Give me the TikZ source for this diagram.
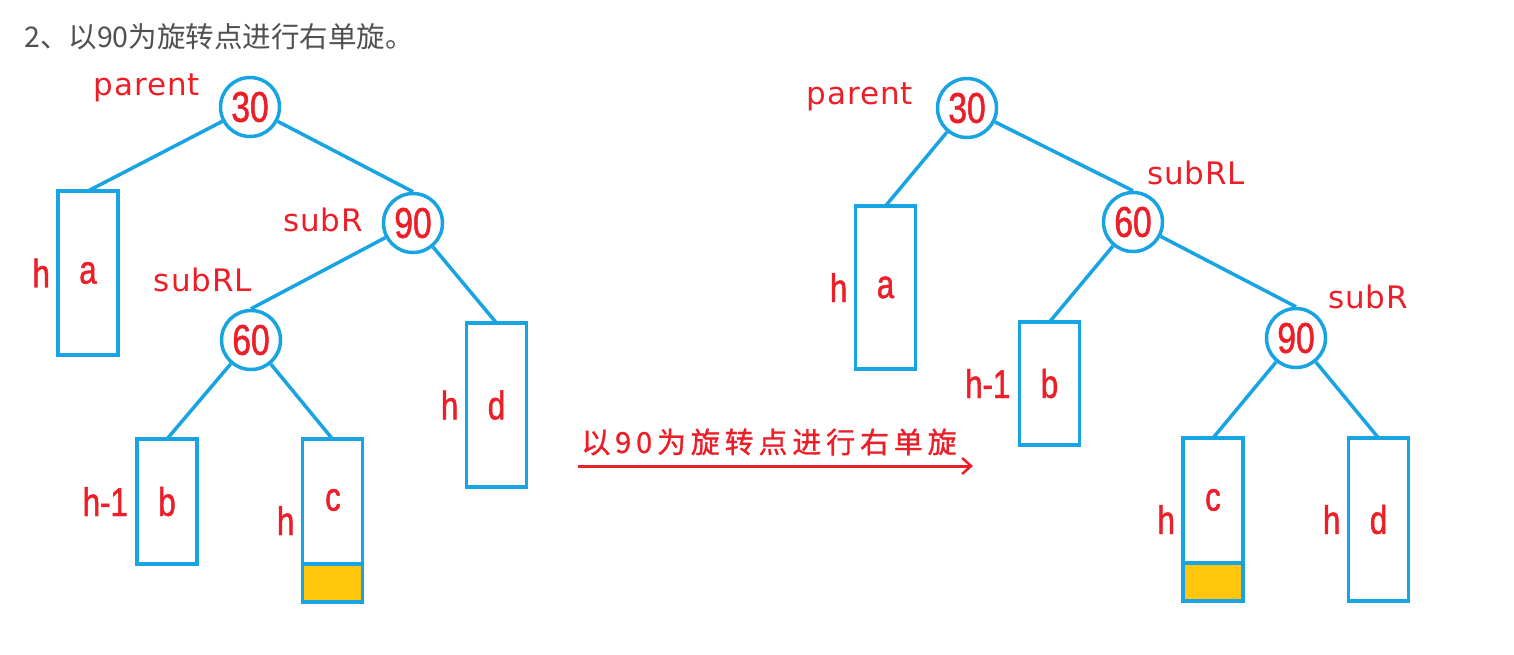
\documentclass[tikz,border=0pt]{standalone}
\usepackage{fontspec}
\setmainfont{Liberation Sans}
\newfontfamily\numfont[FakeStretch=0.78,FakeBold=1.2]{Liberation Sans}
\newfontfamily\lblfont[LetterSpace=3]{DejaVu Sans}
\newfontfamily\cjk{Noto Sans CJK SC}
\newfontfamily\cjkb[FakeBold=1]{Noto Sans CJK SC}
\usetikzlibrary{calc,arrows.meta}
\definecolor{tblue}{RGB}{24,163,226}
\definecolor{tred}{RGB}{236,30,40}
\definecolor{tyellow}{RGB}{255,198,12}
\definecolor{tgray}{RGB}{80,80,80}
\tikzset{
  keynode/.style={circle,draw=tblue,line width=3.5pt,minimum size=59pt,inner sep=0pt,fill=white,
    text=tred,font=\numfont\fontsize{43}{43}\selectfont},
  subtree/.style={rectangle,draw=tblue,line width=3.5pt,minimum width=60pt,inner sep=0pt,outer sep=0pt,fill=white,
    text=tred,font=\numfont\fontsize{40}{40}\selectfont},
  hlab/.style={text=tred,font=\numfont\fontsize{40}{40}\selectfont,anchor=east,inner sep=0pt},
  ptr/.style={text=tred,font=\lblfont\fontsize{31}{31}\selectfont,inner sep=0pt},
  edge/.style={draw=tblue,line width=3.5pt},
}
\begin{document}
\begin{tikzpicture}[x=1pt,y=-1pt]
\useasboundingbox (0,0) rectangle (1514,654);
\fill[white] (0,0) rectangle (1514,654);
% title
\node[anchor=west,text=tgray,font=\cjk\fontsize{28.5}{28.5}\selectfont,inner sep=0pt] (title) at (24,37) {2、以90为旋转点进行右单旋。};

% ---------- left tree ----------
\node[keynode] (L30) at (250,107) {30};
\node[keynode] (L90) at (413,223) {90};
\node[keynode] (L60) at (251,340) {60};
\node[subtree,minimum height=164pt] (La) at (88,273) {a};
\node[subtree,minimum height=125pt] (Lb) at (167,501.5) {b};
\node[subtree,minimum height=163pt] (Lc) at (332.5,520.5) {};
\node[subtree,minimum height=164pt] (Ld) at (496.5,405) {d};
\node[text=tred,font=\numfont\fontsize{40}{40}\selectfont] (Lct) at (333,500) {c};
\draw[draw=tblue,fill=tyellow,line width=3.5pt] (Lc.south west) rectangle ($(Lc.south east)+(0,-38)$);
\node[hlab] (Lah) at ($(La.west)+(-8,0)$) {h};
\node[hlab] (Lbh) at ($(Lb.west)+(-9,0)$) {h-1};
\node[hlab] (Lch) at ($(Lc.west)+(-8,0)$) {h};
\node[hlab] (Ldh) at ($(Ld.west)+(-8,0)$) {h};
\path[edge] (L30) -- (La.north);
\path[edge] (L30) -- (L90.north);
\path[edge] (L90) -- (L60.north);
\path[edge] (L90) -- (Ld.north);
\path[edge] (L60) -- (Lb.north);
\path[edge] (L60) -- (Lc.north);
\node[ptr] (Lparent) at (147,88) {parent};
\node[ptr] (LsubR) at (323,220) {subR};
\node[ptr] (LsubRL) at (203,280) {subRL};

% ---------- arrow ----------
\coordinate (as) at (578,466);
\coordinate (ae) at (973,466);
\draw[tred,line width=3pt,-{Straight Barb[length=9pt,width=16pt,line width=2.5pt]}] (as) -- (ae);
\node[text=tred,font=\cjkb\fontsize{29}{29}\selectfont,inner sep=0pt] (alab) at (769,442) {以\,9\,0\,为\,旋\,转\,点\,进\,行\,右\,单\,旋};

% ---------- right tree ----------
\node[keynode] (R30) at (967,108) {30};
\node[keynode] (R60) at (1133,222) {60};
\node[keynode] (R90) at (1296,338) {90};
\node[subtree,minimum height=163pt] (Ra) at (885.5,287.5) {a};
\node[subtree,minimum height=123pt] (Rb) at (1049.5,383.5) {b};
\node[subtree,minimum height=163pt] (Rc) at (1213,519.5) {};
\node[subtree,minimum height=163pt] (Rd) at (1378.5,519.5) {d};
\node[text=tred,font=\numfont\fontsize{40}{40}\selectfont] (Rct) at (1213,500) {c};
\draw[draw=tblue,fill=tyellow,line width=3.5pt] (Rc.south west) rectangle ($(Rc.south east)+(0,-38)$);
\node[hlab] (Rah) at ($(Ra.west)+(-8,0)$) {h};
\node[hlab] (Rbh) at ($(Rb.west)+(-9,0)$) {h-1};
\node[hlab] (Rch) at ($(Rc.west)+(-8,0)$) {h};
\node[hlab] (Rdh) at ($(Rd.west)+(-8,0)$) {h};
\path[edge] (R30) -- (Ra.north);
\path[edge] (R30) -- (R60.north);
\path[edge] (R60) -- (Rb.north);
\path[edge] (R60) -- (R90.north);
\path[edge] (R90) -- (Rc.north);
\path[edge] (R90) -- (Rd.north);
\node[ptr] (Rparent) at (860,97) {parent};
\node[ptr] (RsubRL) at (1196,173) {subRL};
\node[ptr] (RsubR) at (1368,297) {subR};
\end{tikzpicture}
\end{document}
